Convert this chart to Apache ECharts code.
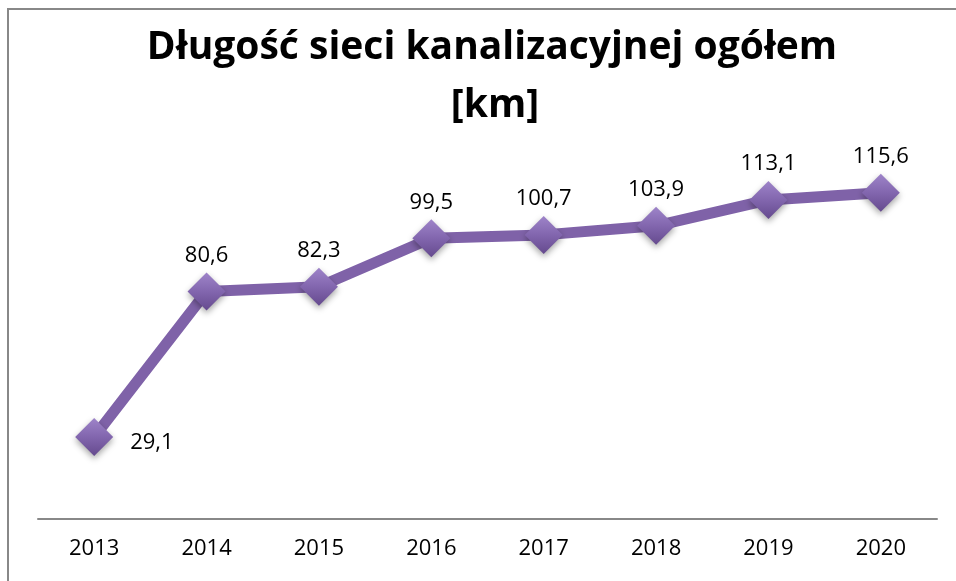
<!DOCTYPE html>
<html>

<head>
    <meta charset="UTF-8">
    <title>Długość sieci kanalizacyjnej</title>
    <script src="https://cdn.jsdelivr.net/npm/echarts@6/dist/echarts.min.js"></script>
    <style>
        html, body { margin: 0; padding: 0; background: #fff; }
    </style>
</head>

<body>
    <div id="chart" style="width: 956px; height: 581px;"></div>

    <script>
        // dane z wykresu
        var years = ['2013', '2014', '2015', '2016', '2017', '2018', '2019', '2020'];
        var lengthKm = [29.1, 80.6, 82.3, 99.5, 100.7, 103.9, 113.1, 115.6];
        var titleLines = ['Długość sieci kanalizacyjnej ogółem', '[km]'];

        var chart = echarts.init(document.getElementById('chart'));

        var points = lengthKm.map(function (v, i) {
            var item = { value: v };
            if (i === 0) {
                item.label = { position: 'right', offset: [11, 6] };
            }
            return item;
        });

        var titleFont = 'bold 39px "Open Sans"';

        var option = {
            animation: false,
            backgroundColor: '#fff',
            graphic: [{
                type: 'rect',
                shape: { x: 8, y: 9, width: 1000, height: 700 },
                style: { fill: 'none', stroke: '#888', lineWidth: 2 },
                z: -1
            }, {
                type: 'text',
                x: 492, y: 48,
                style: { text: titleLines[0], font: titleFont, fill: '#000', align: 'center', verticalAlign: 'middle' }
            }, {
                type: 'text',
                x: 495, y: 106,
                style: { text: titleLines[1], font: titleFont, fill: '#000', align: 'center', verticalAlign: 'middle' }
            }],
            grid: { left: 38, right: 19, top: 124, bottom: 62 },
            xAxis: {
                type: 'category',
                data: years,
                axisLine: { lineStyle: { color: '#888', width: 2 } },
                axisTick: { show: false },
                axisLabel: { color: '#000', fontSize: 22, fontFamily: 'Open Sans', margin: 19 }
            },
            yAxis: {
                type: 'value',
                min: 0,
                max: 140,
                show: false
            },
            series: [{
                type: 'line',
                data: points,
                symbol: 'diamond',
                symbolSize: 38,
                lineStyle: { color: '#7F62A8', width: 11 },
                itemStyle: {
                    color: new echarts.graphic.LinearGradient(0, 0, 0, 1, [
                        { offset: 0, color: '#9E84C9' },
                        { offset: 0.5, color: '#8266AE' },
                        { offset: 1, color: '#654A8E' }
                    ]),
                    shadowColor: 'rgba(0,0,0,0.35)',
                    shadowBlur: 6,
                    shadowOffsetY: 3
                },
                label: {
                    show: true,
                    position: 'top',
                    distance: 6,
                    color: '#000',
                    fontSize: 22,
                    fontFamily: 'Open Sans',
                    formatter: function (p) {
                        return String(p.value).replace('.', ',');
                    }
                }
            }]
        };

        chart.setOption(option);
    </script>
</body>

</html>
